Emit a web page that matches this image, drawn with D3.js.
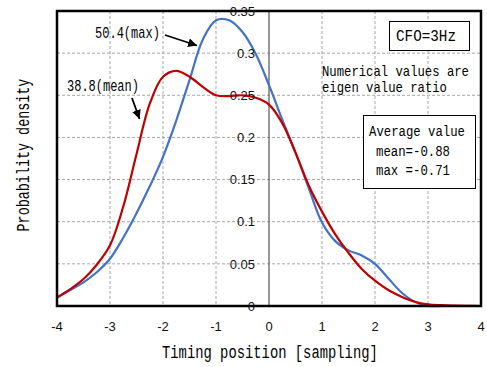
<!DOCTYPE html>
<meta charset="utf-8">
<script src="https://d3js.org/d3.v7.min.js"></script>
<style>
  body { margin: 0; background: #fff; }
</style>
<div id="my_dataviz"></div>
<script>

  // timing positions (sampling) and the two densities
  var timing = [-4, -3.75, -3.5, -3.25, -3, -2.75, -2.5, -2.25, -2, -1.75, -1.5, -1.25, -1, -0.75, -0.5, -0.25,
    0, 0.25, 0.5, 0.75, 1, 1.25, 1.5, 1.75, 2, 2.25, 2.5, 2.75, 3, 3.25, 3.5, 3.75, 4];
  var maxDensity = [0.010, 0.019, 0.028, 0.040, 0.056, 0.081, 0.110, 0.142, 0.177, 0.220, 0.268, 0.316, 0.339, 0.339, 0.325, 0.299,
    0.262, 0.221, 0.182, 0.140, 0.099, 0.077, 0.066, 0.060, 0.050, 0.033, 0.016, 0.005, 0.000, 0.000, 0.000, 0.000, 0.000];
  var meanDensity = [0.010, 0.020, 0.032, 0.049, 0.072, 0.118, 0.180, 0.240, 0.272, 0.279, 0.272, 0.260, 0.250, 0.249, 0.250, 0.247,
    0.239, 0.217, 0.182, 0.143, 0.112, 0.085, 0.063, 0.044, 0.030, 0.019, 0.011, 0.005, 0.002, 0.001, 0.0005, 0.0002, 0.000];

  var xTicks = [-4, -3, -2, -1, 0, 1, 2, 3, 4];
  var yTicks = [0, 0.05, 0.1, 0.15, 0.2, 0.25, 0.3, 0.35];

  var margin = { top: 11, right: 6, bottom: 61, left: 57 },
    width = 487 - margin.left - margin.right,
    height = 367 - margin.top - margin.bottom;

  var svg = d3.select("#my_dataviz")
    .append("svg")
    .attr("width", 487)
    .attr("height", 367);

  var g = svg.append("g")
    .attr("transform", "translate(" + margin.left + "," + margin.top + ")");

  var x = d3.scaleLinear().domain([-4, 4]).range([0, width]);
  var y = d3.scaleLinear().domain([0, 0.35]).range([height, 0]);

  var mono = "'Liberation Mono', 'DejaVu Sans Mono', monospace";

  // dashed grid
  g.selectAll(".hgrid")
    .data(yTicks.slice(1, -1))
    .enter().append("line")
    .attr("x1", 0).attr("x2", width)
    .attr("y1", function (d) { return y(d); })
    .attr("y2", function (d) { return y(d); })
    .attr("stroke", "#a6a6a6")
    .attr("stroke-dasharray", "3,2");
  g.selectAll(".vgrid")
    .data(xTicks.filter(function (d) { return d != 0 && Math.abs(d) != 4; }))
    .enter().append("line")
    .attr("y1", 0).attr("y2", height)
    .attr("x1", function (d) { return x(d); })
    .attr("x2", function (d) { return x(d); })
    .attr("stroke", "#a6a6a6")
    .attr("stroke-dasharray", "3,2");

  // vertical axis sits at x = 0
  g.append("line")
    .attr("x1", x(0)).attr("x2", x(0))
    .attr("y1", 0).attr("y2", height)
    .attr("stroke", "#555")
    .attr("stroke-width", 1.2);

  var line = function (vals) {
    return d3.line()
      .x(function (d, i) { return x(timing[i]); })
      .y(function (d) { return y(d); })
      .curve(d3.curveCatmullRom.alpha(0.5))(vals);
  };

  g.append("path")
    .attr("d", line(maxDensity))
    .attr("fill", "none")
    .attr("stroke", "#4472c4")
    .attr("stroke-width", 2.2);

  g.append("path")
    .attr("d", line(meanDensity))
    .attr("fill", "none")
    .attr("stroke", "#c00000")
    .attr("stroke-width", 2.2);

  // plot border
  g.append("rect")
    .attr("x", 0).attr("y", 0)
    .attr("width", width).attr("height", height)
    .attr("fill", "none")
    .attr("stroke", "#000")
    .attr("stroke-width", 2.5);

  // y tick labels next to the x = 0 line
  g.selectAll(".ylab")
    .data(yTicks)
    .enter().append("text")
    .attr("x", x(0) - 14)
    .attr("y", function (d) { return y(d); })
    .attr("dy", "0.36em")
    .attr("text-anchor", "end")
    .style("font-family", "'Liberation Sans', Arial, sans-serif")
    .style("font-size", "13px")
    .attr("fill", "#111")
    .text(function (d) { return d; });

  // x tick labels
  g.selectAll(".xlab")
    .data(xTicks)
    .enter().append("text")
    .attr("x", function (d) { return x(d); })
    .attr("y", height + 25)
    .attr("text-anchor", "middle")
    .style("font-family", "'Liberation Sans', Arial, sans-serif")
    .style("font-size", "13px")
    .attr("fill", "#111")
    .text(function (d) { return d; });

  // narrow monospace text: squeeze horizontally to the width seen in the chart
  function label(txt, px, py, len, size, rot) {
    var t = svg.append("text")
      .attr("x", 0).attr("y", 0)
      .attr("text-anchor", rot ? "middle" : "start")
      .style("font-family", mono)
      .style("font-size", size + "px")
      .attr("fill", "#000")
      .text(txt);
    var sx = len / t.node().getComputedTextLength();
    t.attr("transform", "translate(" + px + "," + py + ")" + (rot ? " rotate(" + rot + ")" : "") + " scale(" + sx + ",1)");
    return t;
  }

  // axis titles
  label("Timing position [sampling]", 162, 358, 216, 17.5);
  label("Probability density", 29, 155, 153, 17.5, -90);

  // boxes
  svg.append("rect").attr("x", 389.5).attr("y", 21.5).attr("width", 80).attr("height", 29)
    .attr("fill", "#fff").attr("stroke", "#000");
  label("CFO=3Hz", 396, 41, 60, 16);

  label("Numerical values are", 322, 76, 147, 15);
  label("eigen value ratio", 322, 91.5, 125, 15);

  svg.append("rect").attr("x", 363.5).attr("y", 115.5).attr("width", 112).attr("height", 73)
    .attr("fill", "#fff").attr("stroke", "#000");
  label("Average value", 369, 136, 96, 15.5);
  label("mean=-0.88", 376, 156, 74, 15.5);
  label("max =-0.71", 376, 175, 74, 15.5);

  // annotations with arrows
  svg.append("defs").append("marker")
    .attr("id", "arrow")
    .attr("viewBox", "0 0 10 10")
    .attr("refX", 10).attr("refY", 5)
    .attr("markerWidth", 5).attr("markerHeight", 5)
    .attr("markerUnits", "strokeWidth")
    .attr("orient", "auto")
    .append("path")
    .attr("d", "M0,0L10,5L0,10z")
    .attr("fill", "#000");

  label("50.4(max)", 95, 38, 65, 16);
  svg.append("line")
    .attr("x1", 165).attr("y1", 35).attr("x2", 197).attr("y2", 45.5)
    .attr("stroke", "#000").attr("stroke-width", 1.8)
    .attr("marker-end", "url(#arrow)");

  label("38.8(mean)", 67, 91, 72, 16);
  svg.append("line")
    .attr("x1", 132).attr("y1", 98).attr("x2", 139.5).attr("y2", 119)
    .attr("stroke", "#000").attr("stroke-width", 1.8)
    .attr("marker-end", "url(#arrow)");

</script>
